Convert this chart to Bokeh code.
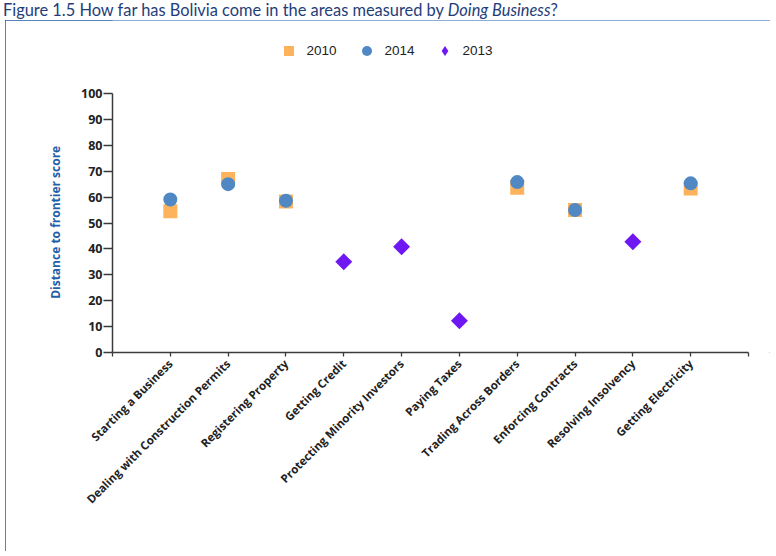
import math
from bokeh.plotting import figure
from bokeh.layouts import column
from bokeh.models import Range1d, FixedTicker, Legend, LegendItem, Div
from bokeh.embed import file_html
from bokeh.resources import INLINE

categories = ["Starting a Business", "Dealing with Construction Permits", "Registering Property",
              "Getting Credit", "Protecting Minority Investors", "Paying Taxes",
              "Trading Across Borders", "Enforcing Contracts", "Resolving Insolvency",
              "Getting Electricity"]
cat_2010 = ["Starting a Business", "Dealing with Construction Permits", "Registering Property",
            "Trading Across Borders", "Enforcing Contracts", "Getting Electricity"]
val_2010 = [54.5, 67.0, 58.3, 63.6, 55.0, 63.3]
cat_2014 = cat_2010
val_2014 = [59.1, 65.0, 58.6, 65.8, 55.0, 65.3]
cat_2013 = ["Getting Credit", "Protecting Minority Investors", "Paying Taxes", "Resolving Insolvency"]
val_2013 = [35.0, 40.8, 12.3, 42.8]
y_ticks = list(range(0, 101, 10))

pos = {c: i + 1 for i, c in enumerate(categories)}
x_2010 = [pos[c] for c in cat_2010]
x_2014 = [pos[c] for c in cat_2014]
x_2013 = [pos[c] for c in cat_2013]
n_slots = len(categories) + 1

c2010, c2014, c2013 = "#FDB35C", "#5088C4", "#6E17F2"

title = Div(text='Figure 1.5 How far has Bolivia come in the areas measured by <i>Doing Business</i>?',
            width=770, height=20, margin=(0, 0, 0, 3),
            styles={"font-family": "Lato, 'Open Sans', sans-serif", "font-size": "16.4px",
                    "line-height": "20px", "color": "#1F3D7A", "white-space": "nowrap"})

# layout (pixels)
W, H = 765, 531
left_b, bottom_b = 107, 199
axis_len_x = 636          # pixel length of the x axis (0..n_slots)
axis_len_y = 259          # pixel length of the y axis (0..100)
frame_w = W - left_b
frame_h = H - bottom_b

p = figure(width=W, height=H, output_backend="svg", toolbar_location=None, title_location=None,
           x_range=Range1d(0, n_slots * frame_w / axis_len_x),
           y_range=Range1d(0, 100 * frame_h / axis_len_y),
           min_border_left=left_b, min_border_right=0, min_border_top=0, min_border_bottom=bottom_b)
p.margin = (0, 0, 0, 5)
p.styles = {"outline": "1.5px solid #1E5AA8", "outline-offset": "-1.5px"}
p.xgrid.visible = False
p.ygrid.visible = False
p.outline_line_color = None
p.background_fill_color = "white"
p.border_fill_color = "white"

axis_color = "#3A3A3A"
for ax in (p.xaxis[0], p.yaxis[0]):
    ax.axis_line_color = axis_color
    ax.axis_line_width = 1.5
    ax.major_tick_line_color = axis_color
    ax.major_tick_line_width = 1.3
    ax.minor_tick_line_color = None
    ax.major_tick_in = 0
    ax.major_label_text_color = "#222222"

p.xaxis.bounds = (0, n_slots)
p.xaxis.ticker = FixedTicker(ticks=list(range(0, n_slots + 1)))
overrides = {0: "", n_slots: ""}
overrides.update({pos[c]: c for c in categories})
p.xaxis.major_label_overrides = overrides
p.xaxis.major_label_orientation = math.pi / 4
p.xaxis.major_tick_out = 4
p.xaxis.major_label_standoff = 5
p.xaxis.major_label_text_font = "Open Sans"
p.xaxis.major_label_text_font_style = "bold"
p.xaxis.major_label_text_font_size = "11.5px"

p.yaxis.bounds = (0, 100)
p.yaxis.ticker = FixedTicker(ticks=y_ticks)
p.yaxis.major_tick_out = 9
p.yaxis.major_label_standoff = 1
p.yaxis.major_label_text_font = "Open Sans"
p.yaxis.major_label_text_font_style = "bold"
p.yaxis.major_label_text_font_size = "12.5px"
# trailing no-break spaces move the rotated title down so it is centred on the 0-100 axis
p.yaxis.axis_label = "Distance to frontier score" + "\u00a0" * 23
p.yaxis.axis_label_text_font = "Open Sans"
p.yaxis.axis_label_text_font_style = "bold"
p.yaxis.axis_label_text_font_size = "12px"
p.yaxis.axis_label_text_color = "#1F5FA8"
p.yaxis.axis_label_standoff = 14

r10 = p.scatter(x_2010, val_2010, marker="square", size=14, color=c2010, line_color=None)
r14 = p.scatter(x_2014, val_2014, marker="circle", size=14, color=c2014, line_color=None)
# diamond key glyph (legend swatches ignore angle); hidden under the rotated squares
r13_key = p.scatter(x_2013, val_2013, marker="diamond", size=12, color=c2013, line_color=None)
r13 = p.scatter(x_2013, val_2013, marker="square", size=12, angle=math.pi / 4,
                color=c2013, line_color=None)

legend = Legend(items=[LegendItem(label="2010", renderers=[r10]),
                       LegendItem(label="2014", renderers=[r14]),
                       LegendItem(label="2013", renderers=[r13_key])],
                orientation="horizontal", location=(163.5, 289.5), padding=0, margin=0,
                spacing=17, glyph_width=25, glyph_height=25, label_standoff=6,
                border_line_color=None, background_fill_alpha=0,
                label_text_font="'Liberation Sans Narrow', 'Liberation Sans'",
                label_text_font_size="13.5px", label_text_color="#222222")
p.add_layout(legend)

layout = column(title, p, spacing=0)
open("out.html", "w").write(file_html(layout, INLINE))
